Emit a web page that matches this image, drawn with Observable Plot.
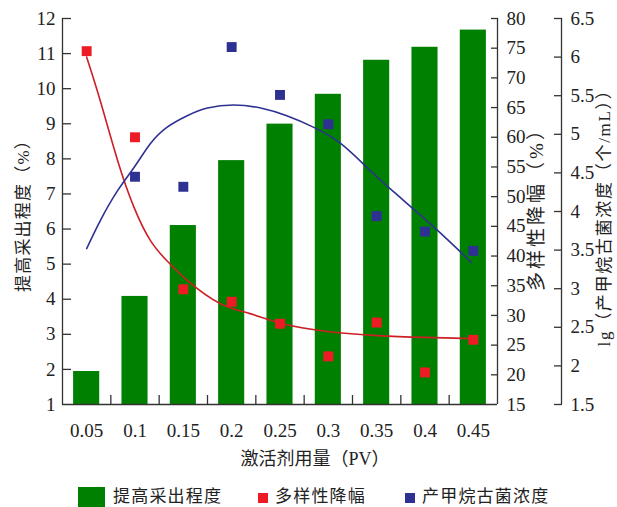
<!DOCTYPE html>
<html>
<head>
<meta charset="utf-8">
<script src="https://cdn.jsdelivr.net/npm/d3@7"></script>
<script src="https://cdn.jsdelivr.net/npm/@observablehq/plot@0.6"></script>
<style>
  html, body { margin: 0; padding: 0; background: #fff; }
  #wrap { width: 617px; }
  #legend { position: relative; width: 617px; height: 27px; font-family: "Noto Sans CJK SC", sans-serif; font-size: 17px; color: #222; letter-spacing: 1.2px; }
  #legend .sw { position: absolute; }
  #legend .lb { position: absolute; top: 6px; line-height: 17px; height: 17px; white-space: nowrap; }
</style>
</head>
<body>
<div id="wrap">
  <div id="chart"></div>
  <div id="legend"></div>
</div>
<script>
// ---- data ----
const doses = [0.05, 0.1, 0.15, 0.2, 0.25, 0.3, 0.35, 0.4, 0.45];
const recovery = [1.94, 4.08, 6.10, 7.95, 8.99, 9.84, 10.81, 11.18, 11.67];          // 提高采出程度 (%)
const diversityDrop = [74.5, 60.0, 34.4, 32.3, 28.6, 23.1, 28.8, 20.4, 25.9];       // 多样性降幅 (%)
const archaeaDoses = [0.1, 0.15, 0.2, 0.25, 0.3, 0.35, 0.4, 0.45];
const archaeaLg = [4.45, 4.32, 6.13, 5.51, 5.13, 3.94, 3.74, 3.49];                 // lg(产甲烷古菌浓度)
// fitted trend lines
const redFitX = [0.05, 0.064, 0.082, 0.099, 0.116, 0.133, 0.154, 0.188, 0.219, 0.253, 0.299, 0.351, 0.4, 0.45];
const redFitY = [73.5, 66.2, 56.1, 48.2, 42.6, 39.2, 35.9, 32.0, 30.3, 28.6, 27.3, 26.6, 26.3, 26.1];
const blueFitX = [0.05, 0.064, 0.082, 0.099, 0.116, 0.133, 0.154, 0.175, 0.202, 0.230, 0.257, 0.285, 0.313, 0.340, 0.368, 0.409, 0.448];
const blueFitY = [3.52, 3.88, 4.27, 4.57, 4.88, 5.09, 5.24, 5.34, 5.38, 5.34, 5.24, 5.09, 4.88, 4.57, 4.25, 3.80, 3.34];
// tick labels
const leftTicks = [1, 2, 3, 4, 5, 6, 7, 8, 9, 10, 11, 12];
const midTicks = [15, 20, 25, 30, 35, 40, 45, 50, 55, 60, 65, 70, 75, 80];
const rightTicks = [1.5, 2, 2.5, 3, 3.5, 4, 4.5, 5, 5.5, 6, 6.5];
const xTitle = "激活剂用量（PV）";
const leftTitle = "提高采出程度（%）";
const midTitle = "多样性降幅（%）";
const rightTitle = "lg（产甲烷古菌浓度（个/mL））";
const seriesNames = ["提高采出程度", "多样性降幅", "产甲烷古菌浓度"];
const colors = ["#008000", "#ED1C24", "#2E3192"];

// ---- secondary scales mapped onto the primary (left) y domain ----
const yMin = 1, yMax = 12;
const midMin = 15, midMax = 80;
const rMin = 1.5, rMax = 6.5;
const fromMid = v => yMin + (v - midMin) * (yMax - yMin) / (midMax - midMin);
const toMid = y => Math.round((midMin + (y - yMin) * (midMax - midMin) / (yMax - yMin)) * 2) / 2;
const fromR = v => yMin + (v - rMin) * (yMax - yMin) / (rMax - rMin);
const toR = y => Math.round((rMin + (y - yMin) * (rMax - rMin) / (yMax - yMin)) * 10) / 10;

const bars = doses.map((d, i) => ({dose: d, value: recovery[i]}));
const redPts = doses.map((d, i) => ({dose: d, value: fromMid(diversityDrop[i])}));
const bluePts = archaeaDoses.map((d, i) => ({dose: d, value: fromR(archaeaLg[i])}));
const redFit = redFitX.map((d, i) => ({dose: d, value: fromMid(redFitY[i])}));
const blueFit = blueFitX.map((d, i) => ({dose: d, value: fromR(blueFitY[i])}));
const step = doses[1] - doses[0];
const xDomain = [doses[0] - step / 2, doses[doses.length - 1] + step / 2];
const halfBar = step * 0.27;
const betweenTicks = doses.slice(0, -1).map(d => d + step / 2);

const axisColor = "#333";
const chart = Plot.plot({
  width: 617,
  height: 480,
  marginLeft: 62,
  marginRight: 120,
  marginTop: 18,
  marginBottom: 76,
  style: {fontFamily: '"Liberation Serif", "Noto Sans CJK SC", serif', fontSize: "19px", color: "#222", background: "#fff"},
  x: {domain: xDomain, label: null},
  y: {domain: [yMin, yMax], label: null},
  marks: [
    Plot.rect(bars, {x1: d => d.dose - halfBar, x2: d => d.dose + halfBar, y1: () => yMin, y2: "value", fill: colors[0]}),
    Plot.line(redFit, {x: "dose", y: "value", stroke: "#CC1F26", strokeWidth: 1.6, curve: "natural"}),
    Plot.line(blueFit, {x: "dose", y: "value", stroke: colors[2], strokeWidth: 1.6, curve: "natural"}),
    Plot.dot(redPts, {x: "dose", y: "value", symbol: "square", r: 5.6, fill: colors[1]}),
    Plot.dot(bluePts, {x: "dose", y: "value", symbol: "square", r: 5.6, fill: colors[2]}),
    // axis lines
    Plot.ruleX([xDomain[0]], {stroke: axisColor, strokeWidth: 1.3}),
    Plot.ruleX([xDomain[1]], {stroke: axisColor, strokeWidth: 1.3}),
    Plot.ruleX([xDomain[1]], {stroke: axisColor, strokeWidth: 1.3, dx: 64}),
    Plot.ruleY([yMin], {stroke: axisColor, strokeWidth: 1.3}),
    // left axis
    Plot.axisY({anchor: "left", ticks: leftTicks, tickSize: 0, tickPadding: 7, label: null}),
    Plot.axisY({anchor: "left", ticks: leftTicks.slice(1), tickSize: -9, tickFormat: () => "", label: null, stroke: axisColor, strokeWidth: 1.3}),
    // middle (right) axis
    Plot.axisY({anchor: "right", ticks: midTicks.map(fromMid), tickFormat: toMid, tickSize: 0, tickPadding: 9, label: null}),
    Plot.axisY({anchor: "right", ticks: midTicks.map(fromMid).slice(1), tickSize: -7, tickFormat: () => "", label: null, stroke: axisColor, strokeWidth: 1.3}),
    // outer right axis
    Plot.axisY({anchor: "right", ticks: rightTicks.map(fromR), tickFormat: toR, tickSize: 0, tickPadding: 9, dx: 64, label: null}),
    Plot.axisY({anchor: "right", ticks: rightTicks.map(fromR), tickSize: -8, tickFormat: () => "", dx: 64, label: null, stroke: axisColor, strokeWidth: 1.3}),
    // x axis
    Plot.axisX({anchor: "bottom", ticks: doses, tickFormat: d => String(+d.toFixed(2)), tickSize: 0, tickPadding: 19, label: null}),
    Plot.axisX({anchor: "bottom", ticks: betweenTicks, tickSize: -9, tickFormat: () => "", label: null, stroke: axisColor, strokeWidth: 1.3}),
    // titles
    Plot.text([leftTitle], {text: d => d, frameAnchor: "left", textAnchor: "middle", dx: -39, rotate: -90, fontSize: 17, fill: "#222"}),
    Plot.text([midTitle], {text: d => d, frameAnchor: "right", textAnchor: "middle", dx: 39, dy: -7, rotate: -90, fontSize: 19, fill: "#222"}),
    Plot.text([rightTitle], {text: d => d, frameAnchor: "right", textAnchor: "middle", dx: 107, dy: 2, rotate: -90, fontSize: 17, fill: "#222"}),
    Plot.text([xTitle], {text: d => d, frameAnchor: "bottom", textAnchor: "middle", dx: 35, dy: 60, fontSize: 18, fill: "#222"})
  ]
});
document.getElementById("chart").appendChild(chart);

// spacing tweaks for titles
chart.querySelectorAll("text").forEach(t => {
  const s = t.textContent;
  if (s === leftTitle) t.setAttribute("letter-spacing", "1.2");
  if (s === midTitle) t.setAttribute("letter-spacing", "3");
  if (s === rightTitle) t.setAttribute("letter-spacing", "1.7");
});

// ---- legend ----
const legend = document.getElementById("legend");
const items = [
  {sw: {left: 78, top: 7, w: 27, h: 20}, lbLeft: 113},
  {sw: {left: 258, top: 13, w: 10, h: 10}, lbLeft: 275},
  {sw: {left: 405, top: 13, w: 10, h: 10}, lbLeft: 422}
];
items.forEach((it, i) => {
  const sw = document.createElement("div");
  sw.className = "sw";
  Object.assign(sw.style, {left: it.sw.left + "px", top: it.sw.top + "px", width: it.sw.w + "px", height: it.sw.h + "px", background: colors[i]});
  legend.appendChild(sw);
  const lb = document.createElement("div");
  lb.className = "lb";
  lb.style.left = it.lbLeft + "px";
  lb.textContent = seriesNames[i];
  legend.appendChild(lb);
});
</script>
</body>
</html>
